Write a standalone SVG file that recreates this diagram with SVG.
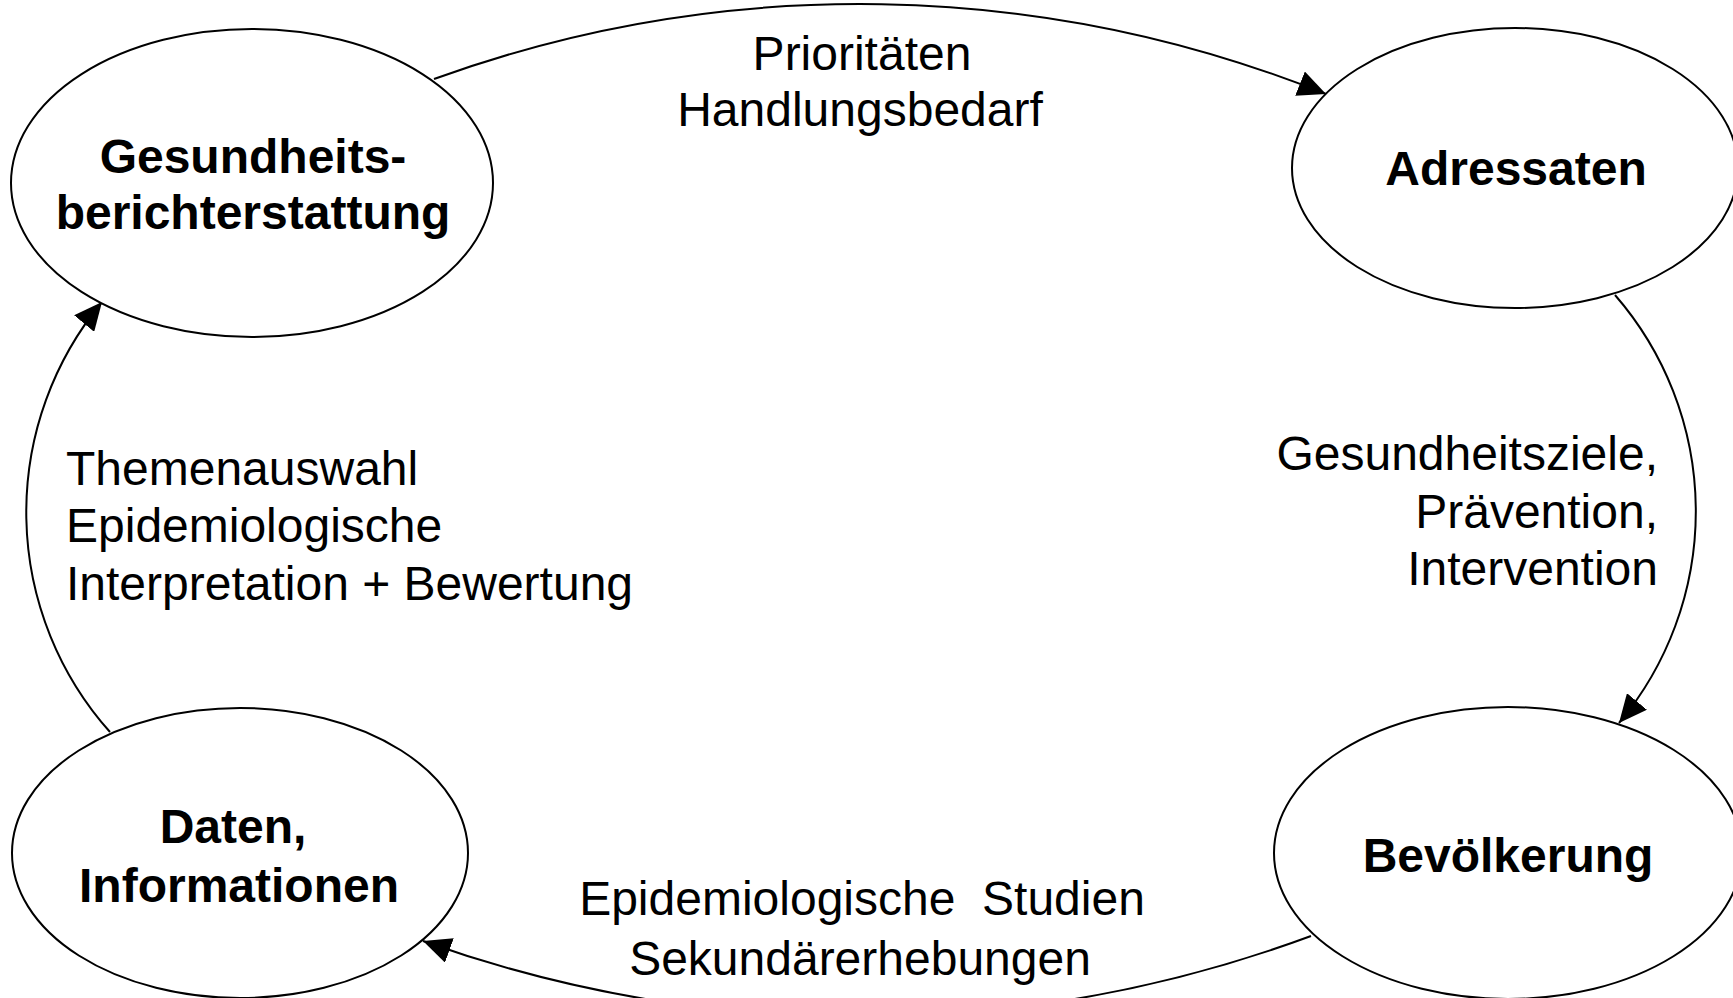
<svg xmlns="http://www.w3.org/2000/svg" width="1733" height="998" viewBox="0 0 1733 998">
<style>
.node{fill:#fff;stroke:#000;stroke-width:2}
.b{font-family:"Liberation Sans",Arial,sans-serif;font-weight:bold;font-size:48px;fill:#000;text-anchor:middle}
.r{font-family:"Liberation Sans",Arial,sans-serif;font-size:48px;fill:#000}
.edge{fill:none;stroke:#000;stroke-width:2;marker-end:url(#arr)}
</style>
<defs>
<marker id="arr" markerUnits="userSpaceOnUse" markerWidth="28" markerHeight="26" refX="28" refY="13" orient="auto" viewBox="0 0 28 26">
<path d="M0,0 L28,13 L0,26 z" fill="#000"/>
</marker>
</defs>
<rect width="1733" height="998" fill="#fff"/>
<g id="connectors">
<path class="edge" d="M434,79 A1250,1250 0 0 1 1326,94"/>
<path class="edge" d="M1615,295 A330,330 0 0 1 1619,723"/>
<path class="edge" d="M1311,936 A1300,1300 0 0 1 423,941"/>
<path class="edge" d="M110,732 A330,330 0 0 1 102,302"/>
</g>
<g id="node-gbe">
<ellipse class="node" cx="252" cy="183" rx="241" ry="154"/>
<text class="b" x="253" y="173">Gesundheits-</text>
<text class="b" x="253" y="229">berichterstattung</text>
</g>
<g id="node-adressaten">
<ellipse class="node" cx="1515" cy="168" rx="223" ry="140"/>
<text class="b" x="1516" y="185">Adressaten</text>
</g>
<g id="node-bevoelkerung">
<ellipse class="node" cx="1508" cy="853" rx="234" ry="146"/>
<text class="b" x="1508" y="872">Bevölkerung</text>
</g>
<g id="node-daten">
<ellipse class="node" cx="240" cy="853" rx="228" ry="145"/>
<text class="b" x="233" y="843">Daten,</text>
<text class="b" x="239" y="902">Informationen</text>
</g>
<g id="labels">
<text class="r" x="862" y="70" text-anchor="middle">Prioritäten</text>
<text class="r" x="860" y="126" text-anchor="middle">Handlungsbedarf</text>
<text class="r" x="1658" y="470" text-anchor="end">Gesundheitsziele,</text>
<text class="r" x="1658" y="528" text-anchor="end">Prävention,</text>
<text class="r" x="1658" y="585" text-anchor="end">Intervention</text>
<text class="r" x="66" y="485">Themenauswahl</text>
<text class="r" x="66" y="542">Epidemiologische</text>
<text class="r" x="66" y="600">Interpretation + Bewertung</text>
<text class="r" x="862" y="915" text-anchor="middle" xml:space="preserve" style="white-space:pre">Epidemiologische  Studien</text>
<text class="r" x="860" y="975" text-anchor="middle">Sekundärerhebungen</text>
</g>
</svg>
